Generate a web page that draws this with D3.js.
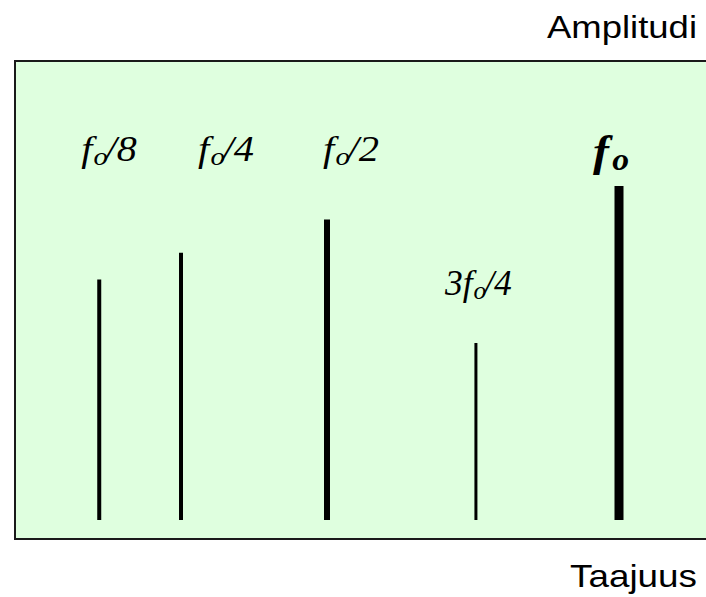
<!DOCTYPE html>
<html>
<head>
<meta charset="utf-8">
<script src="https://cdn.jsdelivr.net/npm/d3@7"></script>
<style>
  body { margin: 0; background: #fff; }
  svg { display: block; }
</style>
</head>
<body>
<svg id="chart"></svg>
<script>
// spektrin komponentit (taajuus suhteessa f0:aan, amplitudi suhteessa f0:n amplitudiin)
const labels = ["f0/8", "f0/4", "f0/2", "3f0/4", "f0"];
const freqs = [0.11, 0.25, 0.5, 0.755, 1.0];
const amps = [0.72, 0.80, 0.90, 0.53, 1.0];

const width = 706, height = 597;
const svg = d3.select("#chart").attr("width", width).attr("height", height);

// tausta-laatikko
svg.append("rect")
    .attr("x", 15).attr("y", 61)
    .attr("width", 720).attr("height", 478)
    .attr("fill", "#dfffdf")
    .attr("stroke", "#1a1a1a")
    .attr("stroke-width", 2);

const x = d3.scaleLinear().domain([0, 1]).range([35, 619]);
const y = d3.scaleLinear().domain([0, 1]).range([520, 186]);

const data = labels.map((l, i) => ({ label: l, f: freqs[i], a: amps[i] }));

// viivojen paksuudet
const strokeW = { "f0/8": 4, "f0/4": 4, "f0/2": 6, "3f0/4": 3, "f0": 9 };

svg.selectAll(".comp")
    .data(data)
    .enter()
    .append("line")
    .attr("class", "comp")
    .attr("x1", d => x(d.f)).attr("x2", d => x(d.f))
    .attr("y1", y(0)).attr("y2", d => y(d.a))
    .attr("stroke", "#000")
    .attr("stroke-width", d => strokeW[d.label]);

// tekstien paikat suhteessa viivaan
const labelPos = {
    "f0/8": { dx: -18, y: 161, w: 56 },
    "f0/4": { dx: 17, y: 161, w: 56 },
    "f0/2": { dx: -4, y: 161, w: 56 },
    "3f0/4": { dx: -31, y: 295, w: 68 },
    "f0": { dx: -26, y: 166, w: 36 }
};

data.forEach(d => {
    const p = labelPos[d.label];
    const t = svg.append("text")
        .attr("x", x(d.f) + p.dx)
        .attr("y", p.y)
        .style("font-family", "'Liberation Serif', 'Times New Roman', serif")
        .style("font-style", "italic")
        .style("fill", "#000");
    if (d.label === "f0") {
        t.style("font-weight", "bold");
        t.append("tspan").style("font-size", "44px").text("f");
        t.append("tspan").style("font-size", "31px").attr("dx", 3).attr("dy", 4).text("o");
    } else {
        const [pre, post] = d.label.split("f0");
        t.style("font-size", "35px");
        t.append("tspan").text(pre + "f");
        t.append("tspan").style("font-size", "25px").attr("dx", 1).attr("dy", 4).text("o");
        t.append("tspan").attr("dx", -2).attr("dy", -4).text(post);
    }
    // venytetään leveys kuvan mukaiseksi
    const bw = t.node().getBBox().width;
    const x0 = x(d.f) + p.dx;
    t.attr("transform", `translate(${x0},0) scale(${p.w / bw},1) translate(${-x0},0)`);
});

// akselien nimet
function axisName(txt, yPos, w) {
    const t = svg.append("text")
        .attr("x", 697).attr("y", yPos)
        .attr("text-anchor", "end")
        .style("font-family", "'Liberation Sans', Arial, sans-serif")
        .style("font-size", "32px")
        .text(txt);
    const bw = t.node().getBBox().width;
    t.attr("transform", `translate(697,0) scale(${w / bw},1) translate(-697,0)`);
}
axisName("Amplitudi", 38, 150);
axisName("Taajuus", 587, 127);
</script>
</body>
</html>
